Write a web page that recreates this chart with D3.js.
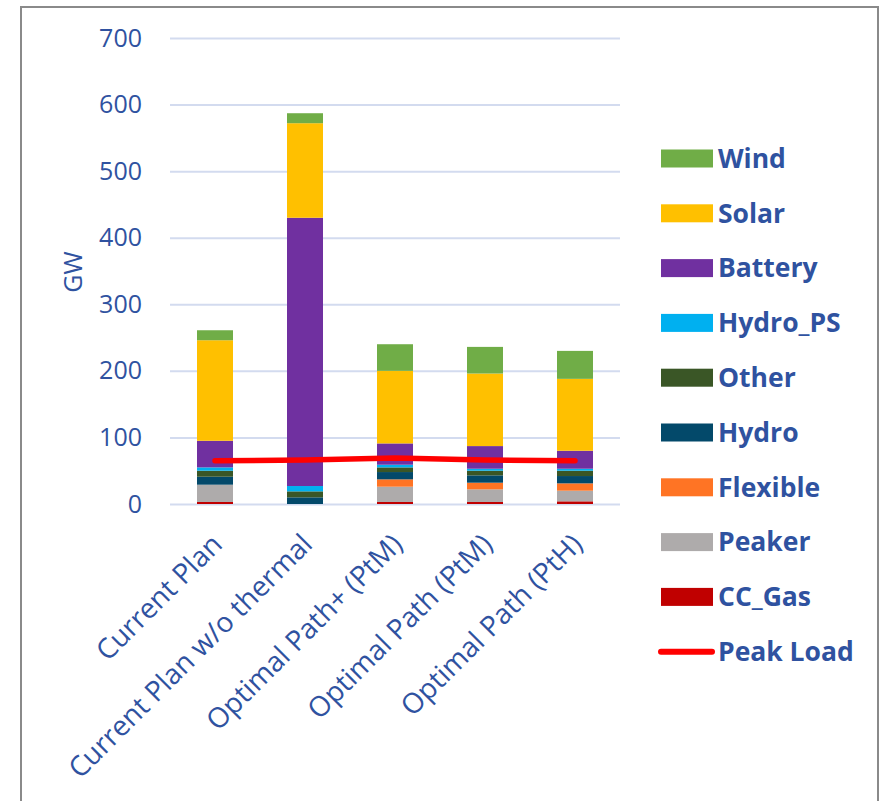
<!DOCTYPE html>
<html>
<head>
<meta charset="utf-8">
<script src="https://cdn.jsdelivr.net/npm/d3@7"></script>
<style>
	body { margin: 0; background: #fff; }
	svg { display: block; font-family: "Open Sans", sans-serif; }
</style>
</head>
<body>
<div id="chart_area"></div>
<script>
// Data (GW).
var categories = ["Current Plan", "Current Plan w/o thermal", "Optimal Path+ (PtM)", "Optimal Path (PtM)", "Optimal Path (PtH)"];
var series_names = ["CC_Gas", "Peaker", "Flexible", "Hydro", "Other", "Hydro_PS", "Battery", "Solar", "Wind"];
var series_colors = ["#C00000", "#AEABAB", "#FF7424", "#03496A", "#3A5626", "#00B0F0", "#7030A0", "#FFC000", "#70AD47"];

var cc_gas   = [3, 0, 3, 3, 4];
var peaker   = [26, 0, 23, 19, 16];
var flexible = [0, 0, 11, 10, 11];
var hydro    = [12, 10, 11, 11, 11];
var other    = [9, 9, 7, 7, 8];
var hydro_ps = [5, 8, 4, 3, 3];
var battery  = [40, 403, 32, 34, 27];
var solar    = [151, 142, 109, 109, 108];
var wind     = [15, 15, 40, 40, 42];
var peak_load = [65, 66, 69, 66, 65];

var y_ticks = [0, 100, 200, 300, 400, 500, 600, 700];

var text_color = "#2F52A0";

// Build rows for d3.stack from the arrays.
var all_series = [cc_gas, peaker, flexible, hydro, other, hydro_ps, battery, solar, wind];
var rows = categories.map(function(c, i) {
	var row = {category: c};
	series_names.forEach(function(s, k) { row[s] = all_series[k][i]; });
	return row;
});
var stacked = d3.stack().keys(series_names)(rows);

// Frame
var frame_width = 881, frame_height = 801;
var svg = d3.select("#chart_area").append("svg")
	.attr("width", frame_width)
	.attr("height", frame_height);

svg.append("rect")
	.attr("x", 21).attr("y", 7)
	.attr("width", 857).attr("height", 810)
	.attr("fill", "none")
	.attr("stroke", "#8a8a8a")
	.attr("stroke-width", 2);

// Scales
var xScale = d3.scaleBand().domain(categories).range([170, 620]).paddingInner(0.6).paddingOuter(0.3);
var yScale = d3.scaleLinear().domain([0, 700]).range([504, 38]);

// Y axis with gridlines
var yAxis = svg.append("g")
	.attr("transform", "translate(170,0)")
	.call(d3.axisLeft(yScale).tickValues(y_ticks).tickSize(-450).tickPadding(28));
yAxis.select(".domain").remove();
yAxis.selectAll("line").attr("stroke", "#D3DBEF").attr("stroke-width", 2);
yAxis.selectAll("text")
	.attr("fill", text_color)
	.style("font-size", "25px")
	.style("font-family", "'Open Sans', sans-serif");

svg.append("text")
	.attr("transform", "translate(82,272) rotate(-90)")
	.attr("text-anchor", "middle")
	.attr("fill", text_color)
	.style("font-size", "25px")
	.text("GW");

// Stacked bars
var layers = svg.append("g").selectAll("g")
	.data(stacked)
	.enter().append("g")
	.attr("fill", function(d, i) { return series_colors[i]; });

layers.selectAll("rect")
	.data(function(d) { return d; })
	.enter().append("rect")
	.attr("x", function(d) { return xScale(d.data.category); })
	.attr("y", function(d) { return yScale(d[1]); })
	.attr("width", xScale.bandwidth())
	.attr("height", function(d) { return yScale(d[0]) - yScale(d[1]); });

// X axis (labels only)
var xAxis = svg.append("g")
	.attr("transform", "translate(0,504)")
	.call(d3.axisBottom(xScale).tickSize(0));
xAxis.select(".domain").remove();
xAxis.selectAll("text")
	.attr("y", 0).attr("dy", 0)
	.attr("text-anchor", "end")
	.attr("transform", "translate(9,42) rotate(-45)")
	.attr("fill", text_color)
	.style("font-size", "28px")
	.style("font-family", "'Open Sans', sans-serif");

// Peak load line
var line = d3.line()
	.x(function(d, i) { return xScale(categories[i]) + xScale.bandwidth() / 2; })
	.y(function(d) { return yScale(d); });

svg.append("path")
	.datum(peak_load)
	.attr("d", line)
	.attr("fill", "none")
	.attr("stroke", "#FF0000")
	.attr("stroke-width", 5.5)
	.attr("stroke-linecap", "round");

// Legend, top to bottom: Wind ... CC_Gas, then Peak Load
var legend_names = series_names.slice().reverse();
var legend_colors = series_colors.slice().reverse();
var legend = svg.append("g");

legend_names.forEach(function(name, i) {
	var cy = 158.5 + i * 54.8;
	legend.append("rect")
		.attr("x", 661).attr("y", cy - 9)
		.attr("width", 52).attr("height", 18)
		.attr("fill", legend_colors[i]);
	legend.append("text")
		.attr("x", 718).attr("y", cy)
		.attr("dy", "0.35em")
		.attr("fill", text_color)
		.style("font-size", "26.5px")
		.style("font-weight", "bold")
		.text(name);
});

var pl_y = 158.5 + legend_names.length * 54.8;
legend.append("line")
	.attr("x1", 661).attr("x2", 712)
	.attr("y1", pl_y).attr("y2", pl_y)
	.attr("stroke", "#FF0000")
	.attr("stroke-width", 6)
	.attr("stroke-linecap", "round");
legend.append("text")
	.attr("x", 718).attr("y", pl_y)
	.attr("dy", "0.35em")
	.attr("fill", text_color)
	.style("font-size", "26.5px")
	.style("font-weight", "bold")
	.text("Peak Load");
</script>
</body>
</html>
